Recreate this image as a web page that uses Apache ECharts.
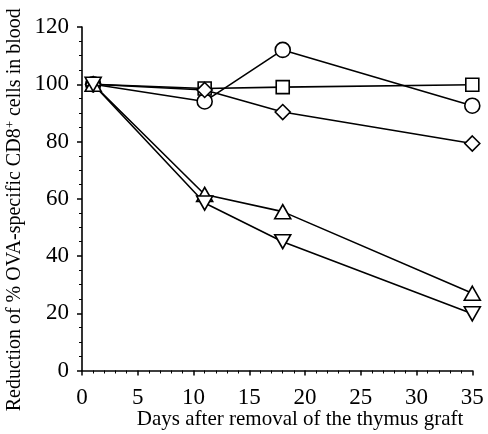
<!DOCTYPE html>
<html><head><meta charset="utf-8">
<script src="https://cdn.jsdelivr.net/npm/echarts@6/dist/echarts.min.js"></script>
<style>html,body{margin:0;padding:0;background:#fff}#c{width:488px;height:434px}</style>
</head><body><div id="c"></div>
<script>
const days = [1, 11, 18, 35];
const circleVals = [100, 94, 112, 92.5];
const squareVals = [100, 98.5, 99, 99.8];
const diamondVals = [100, 98, 90.3, 79.3];
const triUpVals = [100, 61.5, 55.5, 27];
const triDownVals = [100, 58.5, 45, 19.8];
const xTicks = [0, 5, 10, 15, 20, 25, 30, 35];
const yTicks = [0, 20, 40, 60, 80, 100, 120];

const font = '"Liberation Serif", "Times New Roman", serif';
function mk(name, vals, symbol, size, rotate) {
  return {
    name: name, type: 'line',
    data: days.map((d, i) => [d, vals[i]]),
    symbol: symbol, symbolSize: size, symbolRotate: rotate || 0,
    showAllSymbol: true,
    lineStyle: { color: '#000', width: 1.6 },
    itemStyle: { color: '#fff', borderColor: '#000', borderWidth: 1.6 },
    emphasis: { disabled: true },
    animation: false
  };
}
const chart = echarts.init(document.getElementById('c'));
chart.setOption({
  backgroundColor: '#fff',
  animation: false,
  grid: { left: 82, right: 15.7, top: 27, bottom: 63.5, containLabel: false, outerBoundsMode: 'none' },
  xAxis: {
    type: 'value', min: 0, max: 35, interval: 5,
    name: 'Days after removal of the thymus graft',
    nameLocation: 'middle', nameGap: 38, nameMoveOverlap: false,
    nameTextStyle: { fontFamily: font, fontSize: 21, color: '#000', padding: [0, 0, 0, 46] },
    axisLine: { lineStyle: { color: '#000', width: 1.6 } },
    axisTick: { length: 5, lineStyle: { color: '#000', width: 1.5 } },
    minorTick: { show: true, splitNumber: 5, length: 3, lineStyle: { color: '#000', width: 1 } },
    axisLabel: { fontFamily: font, fontSize: 23, color: '#000', margin: 16,
      formatter: v => xTicks.includes(v) ? String(v) : '' },
    splitLine: { show: false }
  },
  yAxis: {
    type: 'value', min: 0, max: 120, interval: 20,
    name: 'Reduction of % OVA-specific CD8{sup|+} cells in blood',
    nameLocation: 'middle', nameGap: 56, nameRotate: 90, nameMoveOverlap: false,
    nameTextStyle: { fontFamily: font, fontSize: 20, color: '#000', padding: [0, 22, 0, 0],
      rich: { sup: { fontFamily: font, fontSize: 13, color: '#000', verticalAlign: 'bottom', padding: [0,0,9,0] } } },
    axisLine: { show: true, lineStyle: { color: '#000', width: 1.6 } },
    axisTick: { show: true, length: 5, lineStyle: { color: '#000', width: 1.5 } },
    minorTick: { show: true, splitNumber: 4, length: 3, lineStyle: { color: '#000', width: 1 } },
    axisLabel: { fontFamily: font, fontSize: 23, color: '#000', margin: 13,
      formatter: v => yTicks.includes(v) ? String(v) : '' },
    splitLine: { show: false }
  },
  series: [
    mk('circle', circleVals, 'circle', 15),
    mk('square', squareVals, 'rect', 13),
    mk('diamond', diamondVals, 'diamond', [15, 15]),
    mk('triUp', triUpVals, 'triangle', [16, 14]),
    mk('triDown', triDownVals, 'triangle', [16, 14], 180)
  ]
});
</script></body></html>
